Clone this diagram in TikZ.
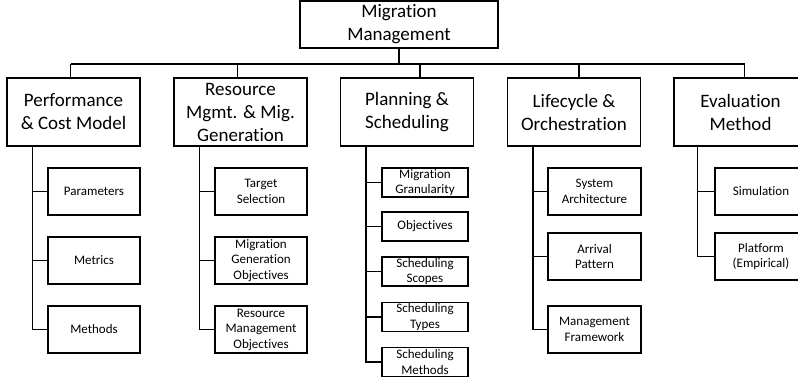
\documentclass[tikz,border=0pt]{standalone}
\usepackage{fontspec}
\setmainfont{Carlito}[Ligatures=NoCommon]
\begin{document}
\begin{tikzpicture}[x=0.75pt,y=-0.75pt,
    box/.style={draw,line width=0.8pt,inner sep=0pt,align=center},
    topbox/.style={box,minimum width=148.5pt,minimum height=35.25pt,font=\fontsize{14.25}{17.25}\selectfont},
    catbox/.style={box,minimum width=99.75pt,minimum height=51pt,font=\fontsize{14.25}{17.25}\selectfont},
    subbox/.style={box,minimum width=69pt,minimum height=35.25pt,font=\fontsize{9.75}{11.6}\selectfont},
    smallbox/.style={box,minimum width=64.5pt,minimum height=21.75pt,font=\fontsize{9.75}{11.6}\selectfont},
    link/.style={line width=0.8pt}]
        \clip (0,0) rectangle (798,381);
        %% root and bus
        \node[topbox] (root) at (399,24.5) {Migration\\Management};
        \coordinate (bus) at (399,64);
        \draw[link] (root.south) -- (bus);
        %% categories
        \node[catbox] (perf) at (73.5,112) {Performance\\\& Cost Model};
        \node[catbox] (res) at (240.5,112) {Resource\\Mgmt. \& Mig.\\Generation};
        \node[catbox] (plan) at (407,112) {Planning \&\\Scheduling};
        \node[catbox] (life) at (574,112) {Lifecycle \&\\Orchestration};
        \node[catbox] (eval) at (740.5,112) {Evaluation\\Method};
        \foreach \n/\dx in {perf/-3,res/-3,plan/13,life/5,eval/4}
            \coordinate (\n-top) at ([xshift=\dx*0.75pt]\n.north);
        \draw[link] (perf-top |- bus) -- (eval-top |- bus);
        \foreach \n in {perf,res,plan,life,eval}
            \draw[link] (\n-top) -- (\n-top |- bus);
        %% performance & cost model
        \foreach \name/\y/\txt in {par/191.5/Parameters,met/260.5/Metrics,meth/329.5/Methods} {
            \node[subbox] (\name) at (94,\y) {\txt};
            \draw[link] ([xshift=19.5pt]perf.south west) |- (\name.west);
        }
        %% resource mgmt. & mig. generation
        \foreach \name/\y/\txt in {tgt/191.5/{Target\\Selection},mgo/260.5/{Migration\\Generation\\Objectives},rmo/329.5/{Resource\\Management\\Objectives}} {
            \node[subbox] (\name) at (261,\y) {\txt};
            \draw[link] ([xshift=19.5pt]res.south west) |- (\name.west);
        }
        %% planning & scheduling
        \foreach \name/\y/\txt in {gran/182.5/{Migration\\Granularity},obj/226.5/Objectives,scope/271.5/{Scheduling\\Scopes},stype/317/{Scheduling\\Types},smeth/362/{Scheduling\\Methods}} {
            \node[smallbox] (\name) at (425,\y) {\txt};
            \draw[link] ([xshift=19.5pt]plan.south west) |- (\name.west);
        }
        %% lifecycle & orchestration
        \foreach \name/\y/\txt in {arch/191.5/{System\\Architecture},arr/256.5/{Arrival\\Pattern},frame/329.5/{Management\\Framework}} {
            \node[subbox,minimum width=69.75pt] (\name) at (594.5,\y) {\txt};
            \draw[link] ([xshift=19.5pt]life.south west) |- (\name.west);
        }
        %% evaluation method
        \foreach \name/\y/\txt in {sim/191.5/Simulation,plat/256.5/{Platform\\(Empirical)}} {
            \node[subbox] (\name) at (761,\y) {\txt};
            \draw[link] ([xshift=18pt]eval.south west) |- (\name.west);
        }
    \end{tikzpicture}
\end{document}
